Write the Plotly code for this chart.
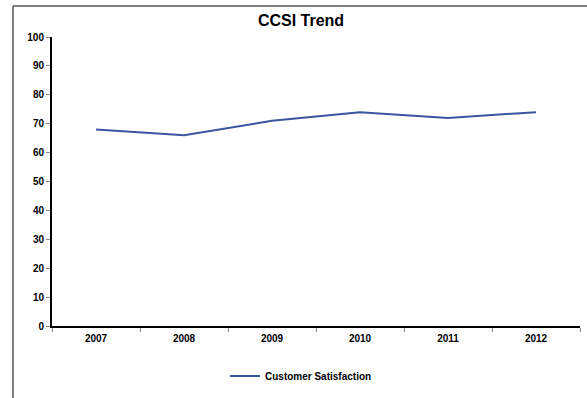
import plotly.graph_objects as go

years = ["2007", "2008", "2009", "2010", "2011", "2012"]
satisfaction = [68, 66, 71, 74, 72, 74]
y_ticks = [0, 10, 20, 30, 40, 50, 60, 70, 80, 90, 100]

W, H = 587, 398
L, R, T, B = 52, 7, 37, 72
pw, ph = W - L - R, H - T - B
FONT = "Liberation Sans, Arial, sans-serif"

def px_x(x):
    return (x - L) / pw

def px_y(y):
    return (H - B - y) / ph

fig = go.Figure()
fig.add_trace(go.Scatter(
    x=years, y=satisfaction, mode="lines", name="Customer Satisfaction",
    line=dict(color="#3A56A0", width=2),
))

fig.update_layout(
    width=W, height=H,
    margin=dict(l=L, r=R, t=T, b=B),
    paper_bgcolor="white", plot_bgcolor="white",
    font=dict(family=FONT, color="black", size=10),
    title=dict(text="<b>CCSI Trend</b>", font=dict(family=FONT, size=16, color="black"),
               x=px_x(301), xref="paper", xanchor="center",
               y=1 - 20 / H, yanchor="middle"),
    showlegend=True,
    legend=dict(orientation="h", x=px_x(225), xanchor="left", y=px_y(376), yanchor="middle",
                font=dict(size=10, family=FONT, weight="bold", color="black"),
                itemwidth=30, bgcolor="rgba(0,0,0,0)"),
    xaxis=dict(
        type="category", tickson="boundaries", ticks="outside", ticklen=4, tickcolor="#888",
        showline=True, linecolor="black", linewidth=2, showgrid=False,
        tickfont=dict(family=FONT, size=10, weight="bold", color="black"),
        ticklabelstandoff=2,
        range=[-0.5, 5.5],
    ),
    yaxis=dict(
        range=[0, 100], tickvals=y_ticks, ticks="outside", ticklen=4, tickcolor="#888",
        showline=True, linecolor="black", linewidth=2, showgrid=False, zeroline=False,
        tickfont=dict(family=FONT, size=10, weight="bold", color="black"),
    ),
)

# outer frame (left and top edges)
fig.add_shape(type="line", xref="paper", yref="paper",
              x0=px_x(13), x1=px_x(13), y0=px_y(6), y1=px_y(H + 5),
              line=dict(color="#555555", width=1.5))
fig.add_shape(type="line", xref="paper", yref="paper",
              x0=px_x(13), x1=px_x(W + 5), y0=px_y(6), y1=px_y(6),
              line=dict(color="#555555", width=1.5))

fig.write_html("out.html")
